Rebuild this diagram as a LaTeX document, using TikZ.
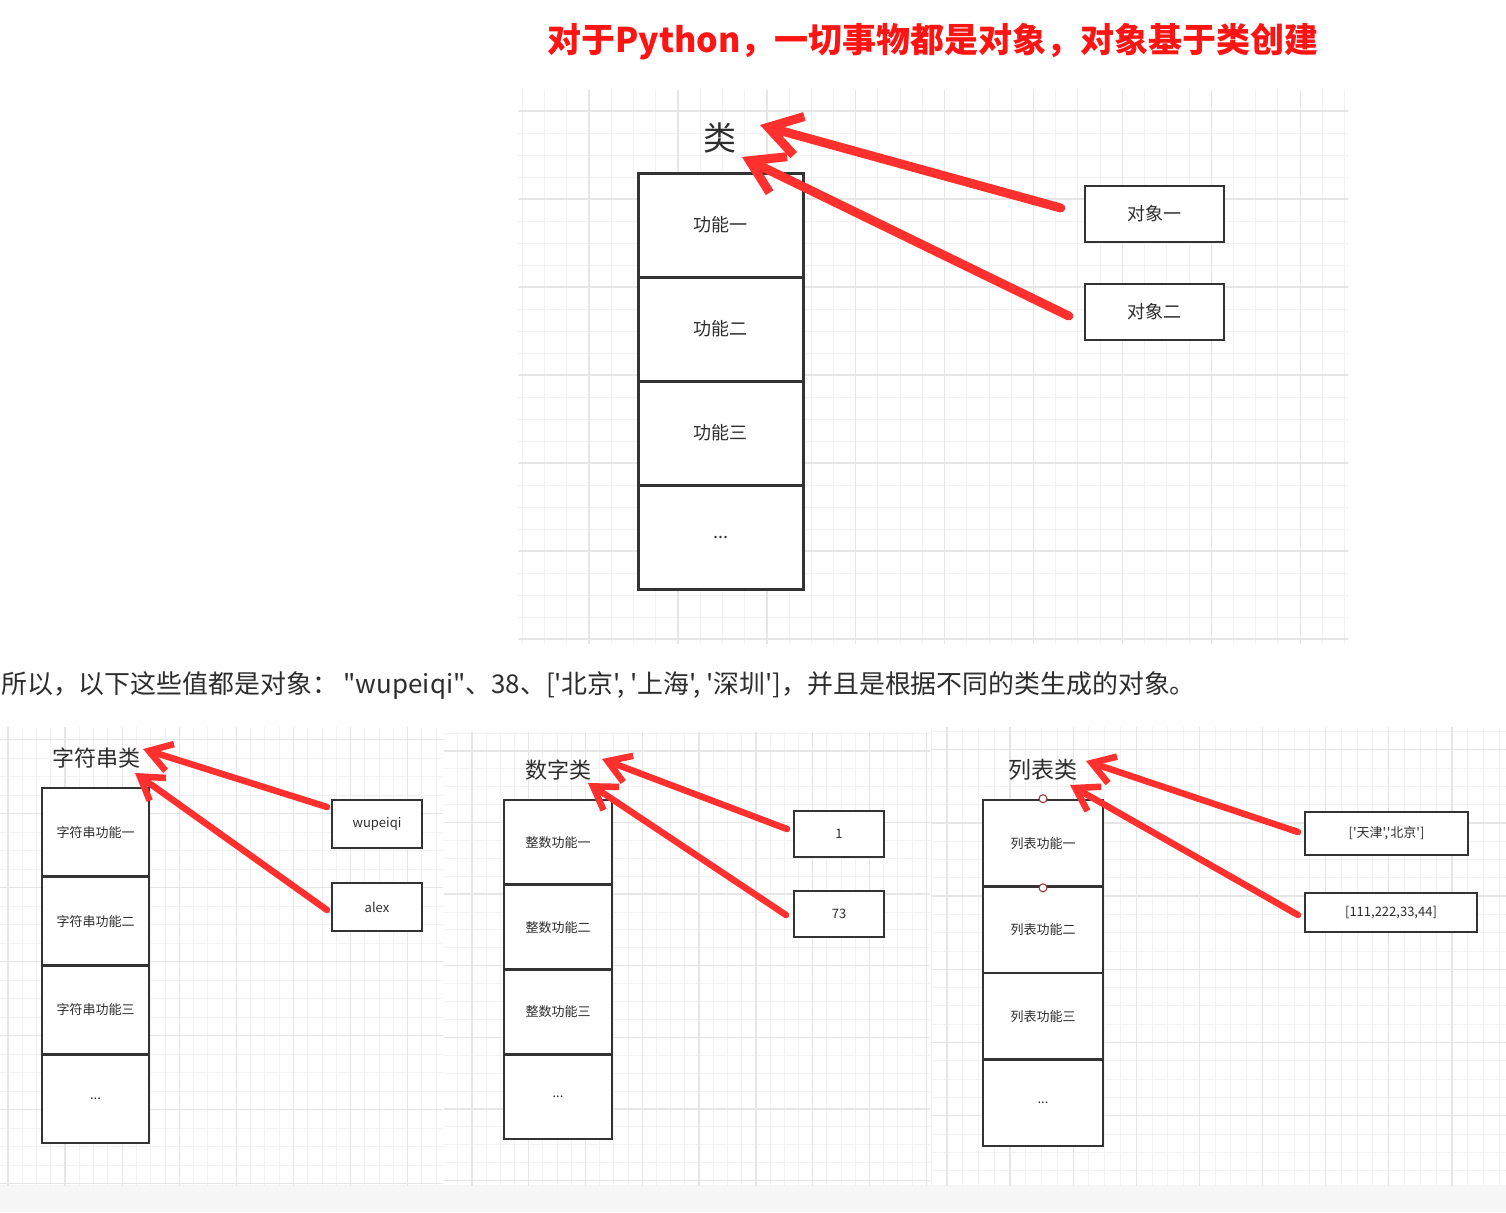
\documentclass[tikz,border=0pt]{standalone}
\usepackage{fontspec}
\setmainfont{Noto Sans CJK SC}[Ligatures=TeXOff]
\usepackage{tikz}
\usetikzlibrary{arrows.meta}
\definecolor{arrowred}{RGB}{255, 48, 46}
\definecolor{titlered}{RGB}{255, 20, 20}
\definecolor{boxgray}{RGB}{51, 51, 51}
\definecolor{textgray}{RGB}{45, 45, 45}
\definecolor{gridminor}{RGB}{242, 242, 242}
\definecolor{gridmajor}{RGB}{230, 230, 230}
\definecolor{bandgray}{RGB}{247, 247, 247}
\definecolor{dotred}{RGB}{160, 40, 40}

\begin{document}
\begin{tikzpicture}[x=1pt, y=-1pt,
  minorline/.style={draw=gridminor, line width=1pt},
  majorline/.style={draw=gridmajor, line width=1.4pt},
  cell/.style={draw=boxgray, fill=white, line width=3pt, inner sep=0pt, text=textgray},
  objbox/.style={draw=boxgray, fill=white, line width=2.5pt, inner sep=0pt, text=textgray},
  redarrow/.style={draw=arrowred, line width=9pt, line cap=round, -{Straight Barb[length=32pt, width=40pt]}},
  thinarrow/.style={draw=arrowred, line width=6.5pt, line cap=round, -{Straight Barb[length=22pt, width=28pt]}}]

  \fill[white] (0, 0) rectangle (1506, 1212);
  \fill[bandgray] (0, 1185) rectangle (1506, 1212);
  \useasboundingbox (0, 0) rectangle (1506, 1212);

  % grid paper behind each drawing
  \foreach \xa/\ya/\xb/\yb/\vx/\vs/\hy/\hs in {518/90/1348/643/589/88.9/111/88,
                                              0/727/443/1185/179.3/57.1/961.7/74,
                                              444/732/930/1185/642.3/56.8/965.7/71.6,
                                              931/727/1506/1185/1136.3/63.1/969.3/73.2} {
    \begin{scope}
      \clip (\xa, \ya) rectangle (\xb, \yb);
      \foreach \k in {-16, ..., 40} {
        \draw[minorline] ({\vx + \k * \vs / 4}, \ya) -- ++(0, 600);
        \draw[minorline] (\xa, {\hy + \k * \hs / 4}) -- ++(900, 0);
      }
      \foreach \k in {-4, ..., 10} {
        \draw[majorline] ({\vx + \k * \vs}, \ya) -- ++(0, 600);
        \draw[majorline] (\xa, {\hy + \k * \hs}) -- ++(900, 0);
      }
    \end{scope}
  }

  \node[text=titlered, font=\bfseries\fontsize{34}{36}\selectfont] (title) at (933, 42)
    {对于Python，一切事物都是对象，对象基于类创建};
  \node[anchor=west, text=textgray, font=\fontsize{25.9}{28}\selectfont, inner sep=0pt] (note) at (1, 685)
    {所以，以下这些值都是对象： "wupeiqi"、38、['北京', '上海', '深圳']，并且是根据不同的类生成的对象。};

  % the class and its two objects
  \node[text=textgray, font=\fontsize{33}{35}\selectfont] (lei) at (720, 138) {类};
  \foreach \t [count=\n] in {功能一, 功能二, 功能三} {
    \node[cell, minimum width=165pt, minimum height=104pt, font=\fontsize{18}{20}\selectfont]
      (fn-\n) at (720.5, {121 + 104 * \n}) {\t};
  }
  \node[cell, minimum width=165pt, minimum height=104pt, font=\fontsize{18}{20}\selectfont]
    (fn-4) at (720.5, 537) {...};
  \node[objbox, minimum width=139pt, minimum height=56pt, font=\fontsize{18}{20}\selectfont] (obj-1) at (1154.5, 214) {对象一};
  \node[objbox, minimum width=139pt, minimum height=56pt, font=\fontsize{18}{20}\selectfont] (obj-2) at (1154.5, 312) {对象二};

  \coordinate (lei-tip1) at (760, 125);
  \coordinate (lei-tip2) at (742, 157);
  \draw[redarrow] ([shift={(-23, -6)}]obj-1.west) -- (lei-tip1);
  \draw[redarrow] ([shift={(-15, 4)}]obj-2.west) -- (lei-tip2);

  % string, number and list classes
  \foreach \p/\cx/\ty/\w/\h/\pre in {str/95.5/788/107/88.75/字符串, int/558/800/108/84.75/整数,
                                      list/1043/800/120/86.5/列表} {
    \foreach \t [count=\n] in {一, 二, 三} {
      \node[cell, line width=2.6pt, minimum width=\w pt, minimum height=\h pt, font=\fontsize{13}{15}\selectfont]
        (\p-\n) at (\cx, {\ty + \h * (\n - 0.5)}) {\pre 功能\t};
    }
    \node[cell, line width=2.6pt, minimum width=\w pt, minimum height=\h pt, font=\fontsize{13}{15}\selectfont]
      (\p-4) at (\cx, {\ty + \h * 3.5}) {...};
  }
  \node[circle, draw=dotred, fill=white, line width=1pt, inner sep=0pt, minimum size=8pt] (list-dot1) at (list-1.north) {};
  \node[circle, draw=dotred, fill=white, line width=1pt, inner sep=0pt, minimum size=8pt] (list-dot2) at (list-1.south) {};

  \node[text=textgray, font=\fontsize{22}{24}\selectfont] (str-cls) at (96, 758) {字符串类};
  \node[text=textgray, font=\fontsize{22}{24}\selectfont] (int-cls) at (558, 770) {数字类};
  \node[text=textgray, font=\fontsize{23}{25}\selectfont] (list-cls) at (1043, 770) {列表类};

  \node[objbox, line width=2pt, minimum width=90pt, minimum height=48pt, font=\fontsize{13}{15}\selectfont] (str-a) at (377, 824) {wupeiqi};
  \node[objbox, line width=2pt, minimum width=90pt, minimum height=48pt, font=\fontsize{13}{15}\selectfont] (str-b) at (377, 907) {alex};
  \node[objbox, line width=2pt, minimum width=90pt, minimum height=46pt, font=\fontsize{13}{15}\selectfont] (int-a) at (839, 834) {1};
  \node[objbox, line width=2pt, minimum width=90pt, minimum height=46pt, font=\fontsize{13}{15}\selectfont] (int-b) at (839, 914) {73};
  \node[objbox, line width=2pt, minimum width=163pt, minimum height=43pt, font=\fontsize{13}{15}\selectfont] (list-a) at (1386.5, 833.5) {['天津','北京']};
  \node[objbox, line width=2pt, minimum width=172pt, minimum height=39pt, font=\fontsize{13}{15}\selectfont] (list-b) at (1391, 912.5) {[111,222,33,44]};

  \coordinate (str-tip1) at (143, 749);
  \coordinate (str-tip2) at (135, 773);
  \coordinate (int-tip1) at (602, 759);
  \coordinate (int-tip2) at (588, 783);
  \coordinate (list-tip1) at (1086, 761);
  \coordinate (list-tip2) at (1070, 785);
  \draw[thinarrow] ([shift={(-4, -17)}]str-a.west) -- (str-tip1);
  \draw[thinarrow] ([shift={(-4, 3)}]str-b.west) -- (str-tip2);
  \draw[thinarrow] ([shift={(-6, -5)}]int-a.west) -- (int-tip1);
  \draw[thinarrow] ([shift={(-7, 1)}]int-b.west) -- (int-tip2);
  \draw[thinarrow] ([shift={(-6, -1.5)}]list-a.west) -- (list-tip1);
  \draw[thinarrow] ([shift={(-6, 2.5)}]list-b.west) -- (list-tip2);

\end{tikzpicture}
\end{document}
